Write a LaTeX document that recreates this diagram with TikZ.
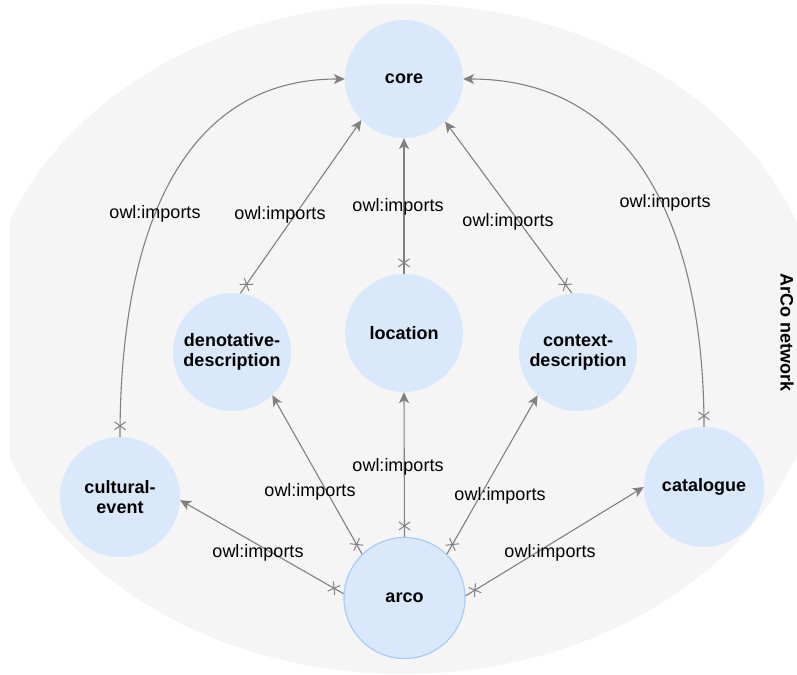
\documentclass[tikz,border=0pt]{standalone}
\usepackage{fontspec}
\setmainfont{Liberation Sans}
\usetikzlibrary{arrows.meta,decorations.markings}
\definecolor{bgc}{HTML}{F5F5F5}
\definecolor{nodefill}{HTML}{DAE8FC}
\definecolor{arcostroke}{HTML}{A6CCF7}
\definecolor{edgec}{HTML}{808080}
\tikzset{
  onto/.style={circle, fill=nodefill, minimum size=118pt, inner sep=0pt, align=center,
    font=\fontsize{18}{20}\selectfont\bfseries},
  imp/.style={draw=edgec, line width=1.1pt,
    -{Stealth[length=11pt,width=10pt,inset=3pt]},
    postaction={decorate},
    decoration={markings, mark=at position 11pt with {
      \draw[edgec, line width=1pt, -] (-4pt,-5.5pt)--(4pt,5.5pt) (-4pt,5.5pt)--(4pt,-5.5pt);}}},
  lbl/.style={font=\fontsize{18}{20}\selectfont, text=black, inner sep=1pt}
}
\begin{document}
\begin{tikzpicture}[x=1pt,y=-1pt]
\useasboundingbox (0,0) rectangle (797,674);
\begin{scope}
  \clip (10,0) rectangle (797,674);
  \fill[bgc] (403,339) ellipse [x radius=420pt, y radius=335pt];
\end{scope}

\node[onto] (core) at (404,79) {core};
\node[onto] (loc) at (404,333) {location};
\node[onto] (den) at (232,352) {denotative-\\description};
\node[onto] (ctx) at (578,352) {context-\\description};
\node[onto, minimum size=120pt] (cult) at (120,497) {cultural-\\event};
\node[onto, minimum size=120pt] (cat) at (704,487) {catalogue};
\node[onto, minimum size=121pt, draw=arcostroke, line width=1.2pt] (arco) at (404.5,598) {arco};

\node[rotate=-90, font=\fontsize{18}{20}\selectfont\bfseries] (net) at (787,333) {ArCo network};

% edges to core
\draw[imp] (cult.north) .. controls (120,235) and (180,79) .. (core.west);
\draw[imp] (cat.north) .. controls (704,230) and (635,79) .. (core.east);
\draw[imp] (den.82) -- (core.224);
\draw[imp] (loc.north) -- (core.south);
\draw[imp] (ctx.96) -- (core.314);

% edges from arco
\draw[imp] (arco.176) -- (cult.357);
\draw[imp] (arco.134) -- (den.313);
\draw[imp] (arco.north) -- (loc.south);
\draw[imp] (arco.46) -- (ctx.227);
\draw[imp] (arco.2) -- (cat.west);

% labels
\node[lbl] (l1) at (155,214) {owl:imports};
\node[lbl] (l2) at (280,215) {owl:imports};
\node[lbl] (l3) at (398,207) {owl:imports};
\node[lbl] (l4) at (508,222) {owl:imports};
\node[lbl] (l5) at (665,203) {owl:imports};
\node[lbl] (l6) at (258,553) {owl:imports};
\node[lbl] (l7) at (310,492) {owl:imports};
\node[lbl] (l8) at (398,467) {owl:imports};
\node[lbl] (l9) at (500,496) {owl:imports};
\node[lbl] (l10) at (550,553) {owl:imports};
\end{tikzpicture}
\end{document}
